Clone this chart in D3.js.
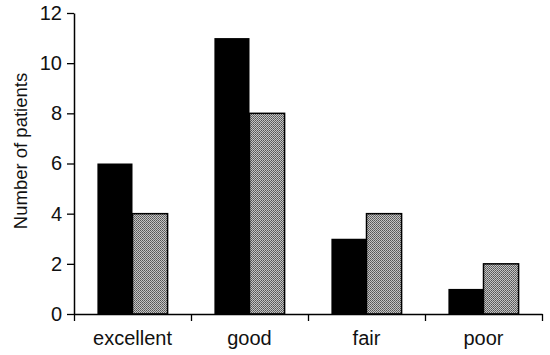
<!DOCTYPE html>
<html>
<head>
<meta charset="utf-8">
<script src="https://cdn.jsdelivr.net/npm/d3@7"></script>
<style>
  html, body { margin: 0; padding: 0; background: #fff; }
  svg { display: block; }
  text { font-family: "Liberation Sans", Arial, Helvetica, sans-serif; fill: #111; }
</style>
</head>
<body>
<svg id="chart" width="550" height="355"></svg>
<script>
const categories = ["excellent", "good", "fair", "poor"];
const series = ["black", "stippled"];
const blackValues = [6, 11, 3, 1];
const stippledValues = [4, 8, 4, 2];
const yTicks = [0, 2, 4, 6, 8, 10, 12];
const yLabel = "Number of patients";

const svg = d3.select("#chart");

const defs = svg.append("defs");
const pat = defs.append("pattern")
  .attr("id", "stipple").attr("patternUnits", "userSpaceOnUse")
  .attr("width", 2).attr("height", 2);
pat.append("rect").attr("width", 2).attr("height", 2).attr("fill", "#c4c4c4");
pat.append("rect").attr("width", 1).attr("height", 1).attr("fill", "#555");
pat.append("rect").attr("x", 1).attr("y", 1).attr("width", 1).attr("height", 1).attr("fill", "#6a6a6a");

const y = d3.scaleLinear().domain([0, 12]).range([314, 13]);
const x0 = d3.scaleBand().domain(categories).range([74, 542]).padding(0);
const bw = x0.bandwidth();
const x1 = d3.scaleBand().domain(series).range([bw * 0.2, bw * 0.8]).padding(0);

const data = categories.map((c, i) => ({
  cat: c,
  vals: [{s: "black", v: blackValues[i]}, {s: "stippled", v: stippledValues[i]}]
}));

const groups = svg.append("g").selectAll("g").data(data).join("g")
  .attr("transform", d => `translate(${x0(d.cat)},0)`);

groups.selectAll("rect").data(d => d.vals).join("rect")
  .attr("x", d => x1(d.s))
  .attr("y", d => y(d.v))
  .attr("width", x1.bandwidth())
  .attr("height", d => y(0) - y(d.v))
  .attr("fill", d => d.s === "black" ? "#000" : "url(#stipple)")
  .attr("stroke", "#000")
  .attr("stroke-width", d => d.s === "black" ? 0 : 1.5);

// Y axis
const yAxis = svg.append("g").attr("transform", "translate(74,0)")
  .call(d3.axisLeft(y).tickValues(yTicks).tickSize(7).tickSizeOuter(0).tickPadding(5));
yAxis.select(".domain").attr("stroke", "#000").attr("stroke-width", 1.5);
yAxis.selectAll(".tick line").attr("stroke", "#000").attr("stroke-width", 1.3);
yAxis.selectAll(".tick text").attr("font-size", 20)
  .attr("font-family", "'Liberation Sans', Arial, sans-serif").attr("fill", "#111");

// X axis
const boundaries = categories.map(c => x0(c)).concat([x0.range()[1]]);
const xAxisScale = d3.scaleLinear().domain([74, 542]).range([74, 542]);
const xAxis = svg.append("g").attr("transform", `translate(0,${y(0)})`)
  .call(d3.axisBottom(xAxisScale).tickValues(boundaries).tickSize(7).tickSizeOuter(0).tickFormat(""));
xAxis.select(".domain").attr("stroke", "#000").attr("stroke-width", 1.5);
xAxis.selectAll(".tick line").attr("stroke", "#000").attr("stroke-width", 1.3);

// Category labels
svg.append("g").selectAll("text").data(categories).join("text")
  .attr("x", d => x0(d) + bw / 2)
  .attr("y", 345)
  .attr("text-anchor", "middle")
  .attr("font-size", 20)
  .text(d => d);

// Y label
svg.append("text")
  .attr("transform", `translate(27,151) rotate(-90)`)
  .attr("text-anchor", "middle")
  .attr("font-size", 18.5)
  .text(yLabel);
</script>
</body>
</html>
